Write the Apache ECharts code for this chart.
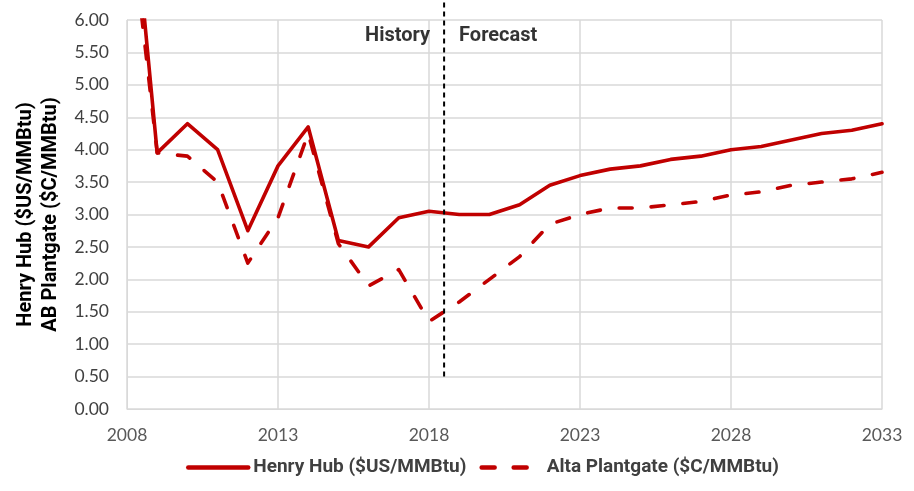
<!DOCTYPE html>
<html><head><meta charset="utf-8">
<script src="https://cdn.jsdelivr.net/npm/echarts@6/dist/echarts.min.js"></script>
<style>html,body{margin:0;padding:0;background:#fff}#c{width:914px;height:491px}</style>
</head><body><div id="c"></div>
<script>
const years = [2008,2009,2010,2011,2012,2013,2014,2015,2016,2017,2018,2019,2020,2021,2022,2023,2024,2025,2026,2027,2028,2029,2030,2031,2032,2033];
const henryHub = [8.86,3.95,4.40,4.00,2.75,3.75,4.35,2.60,2.50,2.95,3.05,3.00,3.00,3.15,3.45,3.60,3.70,3.75,3.85,3.90,4.00,4.05,4.15,4.25,4.30,4.40];
const altaPlantgate = [8.05,3.95,3.90,3.50,2.25,2.95,4.25,2.55,1.90,2.15,1.35,1.65,2.00,2.35,2.85,3.00,3.10,3.10,3.15,3.20,3.30,3.35,3.45,3.50,3.55,3.65];
const dividerYear = 2018.5;
const dividerRange = [0.5, 6.3];
const labelHistory = 'History';
const labelForecast = 'Forecast';
const yTitle = 'Henry Hub ($US/MMBtu)\nAB Plantgate ($C/MMBtu)';
const names = ['Henry Hub ($US/MMBtu)', 'Alta Plantgate ($C/MMBtu)'];

const FONT = 'Lato, "Open Sans", sans-serif';
const BFONT = 'Roboto, "Noto Sans", sans-serif';
const red = '#C00000';
const chart = echarts.init(document.getElementById('c'), null, {renderer:'canvas'});
chart.setOption({
  animation:false,
  grid:{left:127,right:32,top:20,bottom:82,containLabel:false},
  legend:{
    bottom:9, left:181, itemWidth:60, itemHeight:12, itemGap:13,
    itemStyle:{opacity:0},
    lineStyle:{width:4.5,cap:'round'},
    textStyle:{fontFamily:BFONT,fontWeight:'bold',fontSize:19,color:'#404040'},
    data:names
  },
  xAxis:{type:'value',min:2008,max:2033,interval:5,
    axisLine:{show:true,lineStyle:{color:'#d9d9d9',width:1}},
    axisTick:{show:false},
    splitLine:{show:true,lineStyle:{color:'#d9d9d9',width:1.5}},
    axisLabel:{fontFamily:FONT,fontSize:17.5,color:'#595959',margin:17,formatter:v=>String(v)}
  },
  yAxis:{type:'value',min:0,max:6,interval:0.5,
    name:yTitle,nameLocation:'middle',nameGap:64,nameRotate:90,
    nameTextStyle:{fontFamily:BFONT,fontWeight:'bold',fontSize:20,color:'#000',lineHeight:25},
    axisLine:{show:true,lineStyle:{color:'#d9d9d9',width:1}},
    axisTick:{show:false},
    splitLine:{show:true,lineStyle:{color:'#d9d9d9',width:1.5}},
    axisLabel:{fontFamily:FONT,fontSize:17.5,color:'#404040',margin:18,formatter:v=>v.toFixed(2)}
  },
  series:[
    {name:names[0],type:'line',data:years.map((y,i)=>[y,henryHub[i]]),
     showSymbol:false,symbol:'none',clip:true,
     lineStyle:{color:red,width:3.6,cap:'round',join:'round'},itemStyle:{color:red}},
    {name:names[1],type:'line',data:years.map((y,i)=>[y,altaPlantgate[i]]),
     showSymbol:false,symbol:'none',clip:true,
     lineStyle:{color:red,width:3.6,type:[13,19],cap:'round',join:'round'},itemStyle:{color:red}},
    {name:'divider',type:'line',data:[[dividerYear,dividerRange[0]],[dividerYear,dividerRange[1]]],
     showSymbol:false,symbol:'none',clip:false,silent:true,
     lineStyle:{color:'#000',width:2,type:[5,4]}},
    {name:'labels',type:'scatter',symbolSize:0,clip:false,silent:true,
     data:[
       {value:[dividerYear,5.75],label:{show:true,position:'left',distance:14,formatter:labelHistory}},
       {value:[dividerYear,5.75],label:{show:true,position:'right',distance:15,formatter:labelForecast}}
     ],
     label:{fontFamily:BFONT,fontWeight:'bold',fontSize:20,color:'#000'}}
  ]
});
</script></body></html>
